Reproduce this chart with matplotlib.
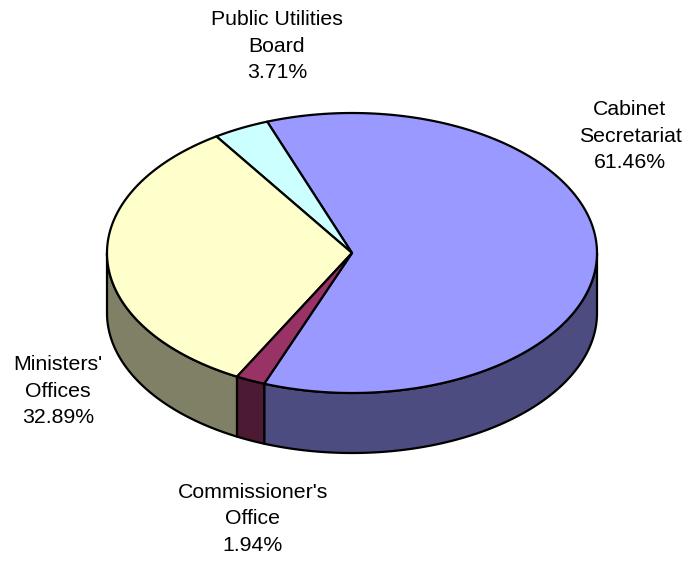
import matplotlib.pyplot as plt
import numpy as np
from matplotlib.patches import Polygon

# share of spending by office, counter-clockwise from the first slice
labels = ["Cabinet\nSecretariat", "Public Utilities\nBoard", "Ministers'\nOffices", "Commissioner's\nOffice"]
shares = [61.46, 3.71, 32.89, 1.94]
top_colors = ["#9999ff", "#ccffff", "#ffffcc", "#993366"]
side_colors = ["#4c4c80", "#668080", "#808066", "#4d1a33"]

# where each label block sits (pixels)
label_pos = [(630, 136), (277, 46), (58, 391), (253, 519)]

cx, cy = 352, 253      # centre of the top face
a, b = 245, 140        # ellipse radii
depth = 60             # thickness of the pie
start = -111.0         # degrees, start of first slice

plt.rcParams['font.family'] = ['Liberation Sans', 'DejaVu Sans']

fig = plt.figure(figsize=(6.99, 5.61), dpi=100)
ax = fig.add_axes([0, 0, 1, 1])
ax.set_xlim(0, 699)
ax.set_ylim(561, 0)
ax.axis('off')


def rim(t0, t1, dy=0.0, n=200):
    t = np.radians(np.linspace(t0, t1, n))
    return np.column_stack([cx + a * np.cos(t), cy - b * np.sin(t) + dy])


bounds = start + np.concatenate([[0], np.cumsum(shares)]) * 3.6
lw = 1.6

# side walls: only the front half (180..360 deg) is visible
for i in range(len(shares)):
    t0, t1 = bounds[i], bounds[i + 1]
    for k in (-1, 0, 1):
        lo = max(t0, 180 + 360 * k)
        hi = min(t1, 360 + 360 * k)
        if hi <= lo:
            continue
        top = rim(lo, hi)
        bot = rim(lo, hi, depth)[::-1]
        ax.add_patch(Polygon(np.vstack([top, bot]), closed=True,
                             facecolor=side_colors[i], edgecolor='black',
                             linewidth=lw, joinstyle='round'))

# top faces
for i in range(len(shares)):
    arc = rim(bounds[i], bounds[i + 1])
    pts = np.vstack([[cx, cy], arc])
    ax.add_patch(Polygon(pts, closed=True, facecolor=top_colors[i],
                         edgecolor='black', linewidth=lw, joinstyle='round'))

for lab, val, (x, y) in zip(labels, shares, label_pos):
    ax.text(x, y, f"{lab}\n{val:.2f}%", ha='center', va='center',
            fontsize=15.3, linespacing=1.48, color='black')

fig.savefig('out.png', dpi=100)
